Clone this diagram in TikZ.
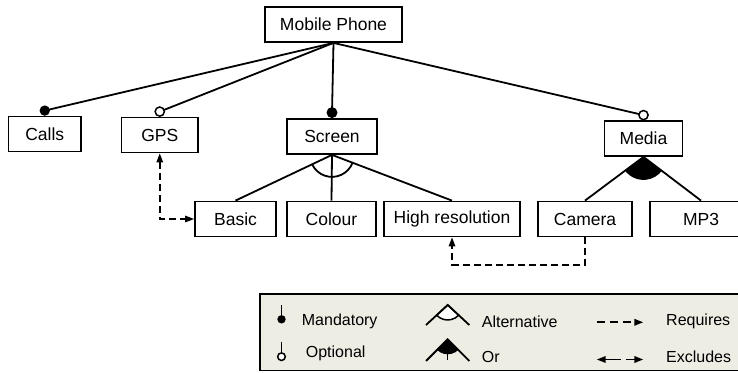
\documentclass[tikz,border=0pt]{standalone}
\usepackage{fontspec}
\setmainfont{Liberation Sans}
\usetikzlibrary{calc,arrows.meta}
\definecolor{legbg}{HTML}{EDEDE3}
\begin{document}
\begin{tikzpicture}[x=1pt,y=1pt,
  feat/.style={draw,line width=1.8pt,minimum height=35pt,inner sep=0pt,font=\fontsize{17.5}{20}\selectfont},
  link/.style={line width=1.8pt},
  dep/.style={line width=1.6pt,dash pattern=on 7pt off 4pt},
  tipend/.style={-{Triangle[length=9pt,width=6.5pt]}},
  tipboth/.style={{Triangle[length=9pt,width=6.5pt]}-{Triangle[length=9pt,width=6.5pt]}},
  legtxt/.style={anchor=west,font=\fontsize{16}{18}\selectfont,inner sep=0pt}]
\useasboundingbox (0,0) rectangle (738,372);

% features
\node[feat,minimum width=137pt] (phone) at (333.5,347.5) {Mobile Phone};
\node[feat,minimum width=72.5pt] (calls) at (44.75,238) {Calls};
\node[feat,minimum width=76.5pt] (gps) at (159.75,237) {GPS};
\node[feat,minimum width=90pt] (screen) at (332,235.5) {Screen};
\node[feat,minimum width=78pt] (media) at (643.5,233.5) {Media};
\node[feat,minimum width=81pt] (basic) at (235.5,153) {Basic};
\node[feat,minimum width=89pt] (colour) at (331.5,153) {Colour};
\node[feat,minimum width=136pt] (hires) at (452,153) {High resolution};
\node[feat,minimum width=94pt] (camera) at (585,153) {Camera};
\node[feat,minimum width=102pt] (mp3) at (701,153) {MP3};

% mandatory / optional links
\coordinate (dcalls) at ($(calls.north)+(0,5)$);
\coordinate (dgps) at ($(gps.north)+(0,5)$);
\coordinate (dscreen) at ($(screen.north)+(0,5.5)$);
\coordinate (dmedia) at ($(media.north)+(0,5)$);
\draw[link] (phone.south) -- (dcalls);
\draw[link] (phone.south) -- (dgps);
\draw[link] (phone.south) -- (dscreen);
\draw[link] (phone.south) -- (dmedia);
\fill (dcalls) circle (5.2);
\draw[line width=1.5pt,fill=white] (dgps) circle (4.6);
\fill (dscreen) circle (5.5);
\draw[line width=1.5pt,fill=white] (dmedia) circle (4.6);

% alternative group
\draw[link] (screen.south) -- (basic.north);
\draw[link] (screen.south) -- (colour.north);
\draw[link] (screen.south) -- (hires.north);
\draw[link] let \p1=($(basic.north)-(screen.south)$), \p2=($(hires.north)-(screen.south)$),
  \n1={atan2(\y1,\x1)}, \n2={atan2(\y2,\x2)} in
  ($(screen.south)+(\n1:22)$) arc[start angle=\n1, end angle=\n2, radius=22];

% or group
\draw[link] (media.south) -- (camera.north);
\draw[link] (media.south) -- (mp3.north);
\fill let \p1=($(camera.north)-(media.south)$), \p2=($(mp3.north)-(media.south)$),
  \n1={atan2(\y1,\x1)}, \n2={atan2(\y2,\x2)} in
  (media.south) -- ($(media.south)+(\n1:23)$) arc[start angle=\n1, end angle=\n2, radius=23] -- cycle;

% cross-tree constraints
\draw[dep,tipboth] (gps.south) |- (basic.west);
\coordinate (camlow) at ($(camera.south)+(0,-27.5)$);
\draw[dep,tipend] (camera.south) -- (camlow) -| (hires.south);

% legend
\draw[line width=1.8pt,fill=legbg] (260,1.5) rectangle (745,78);

\coordinate (mtop) at (281.5,67);
\coordinate (mdot) at (281.5,52.7);
\draw[link] (mtop) -- (mdot);
\fill (mdot) circle (4.2);
\node[legtxt] (lmand) at (301.7,50.3) {Mandatory};

\coordinate (otop) at (281.5,30.3);
\coordinate (odot) at (281.5,15.3);
\draw[link] (otop) -- (odot);
\draw[line width=1.5pt,fill=white] (odot) circle (3.8);
\node[legtxt] (lopt) at (305.7,18.5) {Optional};

\coordinate (aapex) at (447.7,67);
\coordinate (aleft) at (426,47);
\coordinate (aright) at (469.3,47);
\draw[line width=1.5pt,fill=white] (aapex) -- ($(aapex)+(222.7:15)$) arc[start angle=222.7, end angle=317.3, radius=15] -- cycle;
\draw[link] (aleft) -- (aapex) -- (aright);
\node[legtxt] (lalt) at (481.7,50.3) {Alternative};

\coordinate (oapex) at (447.7,32.7);
\coordinate (oleft) at (426,11);
\coordinate (oright) at (469.3,11);
\coordinate (otick) at (447.7,12);
\fill (oapex) -- ($(oapex)+(224.8:15)$) arc[start angle=224.8, end angle=315.2, radius=15] -- cycle;
\draw[link] (oleft) -- (oapex) -- (oright);
\draw[line width=1.5pt] (oapex) -- (otick);
\node[legtxt] (lor) at (481.7,15.3) {Or};

\coordinate (rq1) at (596.7,49.7);
\coordinate (rq2) at (643.3,49.7);
\draw[line width=1.8pt,dash pattern=on 8pt off 5pt,tipend] (rq1) -- (rq2);
\node[legtxt] (lreq) at (666,50.3) {Requires};

\coordinate (ex1) at (596.7,12.5);
\coordinate (ex2) at (643.3,12.5);
\draw[line width=1.8pt,dash pattern=on 16pt off 5pt,tipboth] (ex1) -- (ex2);
\node[legtxt] (lexc) at (666,15.3) {Excludes};
\end{tikzpicture}
\end{document}
